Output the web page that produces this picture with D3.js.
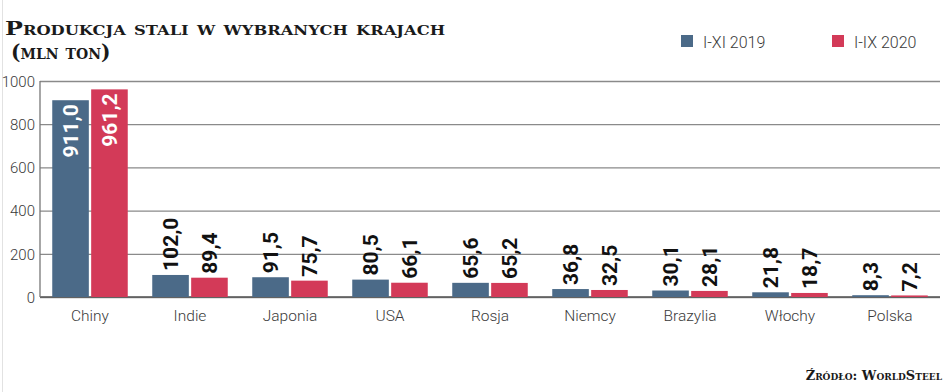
<!DOCTYPE html>
<html>
<head>
<meta charset="utf-8">
<script src="https://cdn.jsdelivr.net/npm/d3@7"></script>
<style>
  body { margin: 0; background: #fff; }
  .title { font-family: "DejaVu Serif", serif; font-weight: bold; font-variant: small-caps; fill: #1a1a1a; }
  .tick-label { font-family: Roboto, "DejaVu Sans", sans-serif; font-weight: 300; fill: #3a3a3a; }
  .value { font-family: Roboto, "DejaVu Sans", sans-serif; font-weight: bold; }
</style>
</head>
<body>
<div class="chart"></div>
<script>
// steel production by country, mln tonnes

var countries = ["Chiny", "Indie", "Japonia", "USA", "Rosja", "Niemcy", "Brazylia", "Włochy", "Polska"];
var seriesNames = ["I-XI 2019", "I-IX 2020"];
var values2019 = [911.0, 102.0, 91.5, 80.5, 65.6, 36.8, 30.1, 21.8, 8.3];
var values2020 = [961.2, 89.4, 75.7, 66.1, 65.2, 32.5, 28.1, 18.7, 7.2];
var yTicks = [0, 200, 400, 600, 800, 1000];
var colors = ["#4b6a88", "#d33a58"];

var svgWidth = 948;
var svgHeight = 392;

var margin = { top: 81, right: 8, bottom: 95, left: 40 };
var width = svgWidth - margin.left - margin.right;
var height = svgHeight - margin.top - margin.bottom;

var svg = d3.select(".chart")
  .append("svg")
  .attr("width", svgWidth)
  .attr("height", svgHeight);

// faint scan border on the left
svg.append("line")
  .attr("x1", 2.5).attr("x2", 2.5)
  .attr("y1", 0).attr("y2", svgHeight)
  .attr("stroke", "#e2e2e2");

var chartGroup = svg.append("g")
  .attr("transform", `translate(${margin.left}, ${margin.top})`);

var fmt = function(v) { return v.toFixed(1).replace(".", ","); };

var rows = countries.map(function(c, i) {
  return { country: c, vals: [values2019[i], values2020[i]] };
});

var x0 = d3.scaleBand()
  .domain(countries)
  .range([0, 900])
  .paddingInner(0.245)
  .paddingOuter(0.1225);

var x1 = d3.scaleBand()
  .domain([0, 1])
  .range([0, x0.bandwidth()])
  .paddingInner(0.06);

var y = d3.scaleLinear()
  .domain([0, 1000])
  .range([height, 0]);

// grid lines + y labels
var leftAxis = d3.axisLeft(y)
  .tickValues(yTicks)
  .tickSize(-width)
  .tickPadding(5)
  .tickFormat(d3.format("d"));

var yAxis = chartGroup.append("g").call(leftAxis);
yAxis.select(".domain").remove();
yAxis.selectAll(".tick line")
  .attr("stroke", "#8a8a8a")
  .attr("stroke-width", 1.3)
  .attr("x1", 0);
yAxis.selectAll(".tick text")
  .attr("class", "tick-label")
  .attr("font-size", 15)
  .attr("dy", "0.35em");

// baseline and left edge
chartGroup.append("line")
  .attr("x1", 0).attr("x2", width)
  .attr("y1", y(0)).attr("y2", y(0))
  .attr("stroke", "#555").attr("stroke-width", 1.5);
chartGroup.append("line")
  .attr("x1", 0).attr("x2", 0)
  .attr("y1", y(1000)).attr("y2", y(0))
  .attr("stroke", "#777").attr("stroke-width", 1.3);

var groups = chartGroup.selectAll(".group")
  .data(rows)
  .enter()
  .append("g")
  .attr("transform", d => `translate(${x0(d.country)}, 0)`);

groups.selectAll("rect")
  .data(d => d.vals.map((v, i) => ({ v: v, i: i })))
  .enter()
  .append("rect")
  .attr("x", d => x1(d.i))
  .attr("width", x1.bandwidth())
  .attr("y", d => y(d.v))
  .attr("height", d => y(0) - y(d.v))
  .attr("fill", d => colors[d.i]);

// value labels, rotated; big bars get them inside in white
groups.selectAll(".value")
  .data(d => d.vals.map((v, i) => ({ v: v, i: i })))
  .enter()
  .append("text")
  .attr("class", "value")
  .attr("font-size", 21)
  .attr("transform", function(d) {
    var cx = x1(d.i) + x1.bandwidth() / 2;
    var inside = d.v > 500;
    var yy = inside ? y(d.v) + 4 : y(d.v) - 4;
    return `translate(${cx}, ${yy}) rotate(-90)`;
  })
  .attr("text-anchor", d => d.v > 500 ? "end" : "start")
  .attr("dy", "0.36em")
  .attr("fill", d => d.v > 500 ? "#fff" : "#111")
  .text(d => fmt(d.v));

// category labels
chartGroup.selectAll(".cat")
  .data(countries)
  .enter()
  .append("text")
  .attr("class", "tick-label")
  .attr("font-size", 15.5)
  .attr("text-anchor", "middle")
  .attr("x", d => x0(d) + x0.bandwidth() / 2)
  .attr("y", y(0) + 24)
  .text(d => d);

// title
svg.append("text")
  .attr("class", "title")
  .attr("x", 5)
  .attr("y", 35)
  .attr("font-size", 19)
  .attr("textLength", 440)
  .attr("lengthAdjust", "spacingAndGlyphs")
  .text("Produkcja stali w wybranych krajach");

svg.append("text")
  .attr("class", "title")
  .attr("x", 11)
  .attr("y", 59)
  .attr("font-size", 20)
  .attr("font-weight", "normal")
  .text("(mln ton)");

// legend
var legendX = [681, 832];
var legend = svg.selectAll(".legend")
  .data(seriesNames)
  .enter()
  .append("g")
  .attr("transform", (d, i) => `translate(${legendX[i]}, 35)`);

legend.append("rect")
  .attr("width", 12)
  .attr("height", 12)
  .attr("fill", (d, i) => colors[i]);

legend.append("text")
  .attr("class", "tick-label")
  .attr("font-size", 16)
  .attr("x", 22)
  .attr("y", 13)
  .text(d => d);

// source
svg.append("text")
  .attr("class", "title")
  .attr("x", 942)
  .attr("y", 380)
  .attr("font-size", 13)
  .attr("text-anchor", "end")
  .text("Źródło: WorldSteel");
</script>
</body>
</html>
